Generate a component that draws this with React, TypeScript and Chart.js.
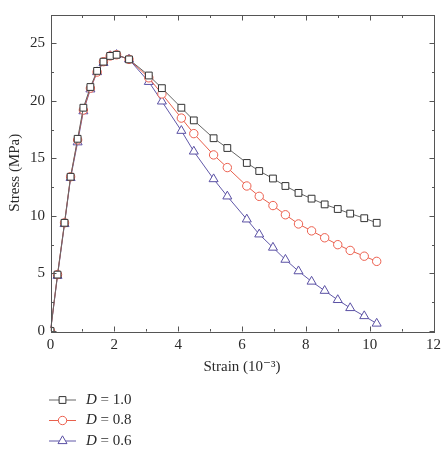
import React, { useEffect, useRef } from "react";
import { Chart, registerables } from "chart.js";

Chart.register(...registerables);

const strain = [0, 0.22, 0.44, 0.63, 0.85, 1.03, 1.25, 1.46, 1.66, 1.87, 2.07, 2.46, 3.08, 3.49, 4.1, 4.49, 5.11, 5.54, 6.15, 6.54, 6.97, 7.36, 7.77, 8.18, 8.59, 9.0, 9.39, 9.83, 10.22];
const stressD10 = [0, 4.9, 9.4, 13.4, 16.7, 19.4, 21.2, 22.6, 23.4, 23.9, 24.0, 23.6, 22.2, 21.1, 19.4, 18.3, 16.75, 15.9, 14.6, 13.9, 13.25, 12.6, 12.0, 11.5, 11.0, 10.6, 10.2, 9.8, 9.4];
const stressD08 = [0, 4.9, 9.4, 13.4, 16.6, 19.2, 21.1, 22.5, 23.4, 23.9, 24.0, 23.6, 22.0, 20.6, 18.5, 17.15, 15.3, 14.2, 12.6, 11.7, 10.9, 10.1, 9.3, 8.7, 8.1, 7.5, 7.0, 6.5, 6.05];
const stressD06 = [0, 4.8, 9.3, 13.3, 16.4, 19.1, 21.0, 22.5, 23.3, 23.9, 24.0, 23.6, 21.65, 19.95, 17.4, 15.6, 13.2, 11.7, 9.7, 8.4, 7.25, 6.2, 5.2, 4.3, 3.5, 2.7, 2.0, 1.3, 0.65];
const dValues = ["1.0", "0.8", "0.6"];
const xMajorTicks = [0, 2, 4, 6, 8, 10, 12];
const xMinorTicks = [1, 3, 5, 7, 9, 11];
const yMajorTicks = [0, 5, 10, 15, 20, 25];
const yMinorTicks = [2.5, 7.5, 12.5, 17.5, 22.5];

const FONT = "'Liberation Serif', 'DejaVu Serif', serif";
const AXIS = "#555";
const TEXT = "#2a2a2a";

function drawMarker(ctx: CanvasRenderingContext2D, style: string, x: number, y: number, r: number, color: string) {
  ctx.save();
  ctx.strokeStyle = color;
  ctx.fillStyle = "#fff";
  ctx.lineWidth = 1;
  ctx.beginPath();
  if (style === "rect") {
    const s = r * Math.SQRT2 / 2;
    ctx.rect(x - s, y - s, 2 * s, 2 * s);
  } else if (style === "circle") {
    ctx.arc(x, y, r, 0, Math.PI * 2);
  } else {
    const h = r;
    ctx.moveTo(x, y - h);
    ctx.lineTo(x + h * Math.cos(Math.PI / 6), y + h * 0.5);
    ctx.lineTo(x - h * Math.cos(Math.PI / 6), y + h * 0.5);
    ctx.closePath();
  }
  ctx.fill();
  ctx.stroke();
  ctx.restore();
}

const framePlugin = {
  id: "frameTicks",
  afterDatasetsDraw(chart: any) {
    const { ctx, chartArea, scales } = chart;
    const { left, right, top, bottom } = chartArea;
    const xs = scales.x;
    const ys = scales.y;
    ctx.save();
    ctx.strokeStyle = AXIS;
    ctx.lineWidth = 1;
    ctx.strokeRect(Math.round(left) + 0.5, Math.round(top) + 0.5, Math.round(right - left), Math.round(bottom - top));
    const tick = (x1: number, y1: number, x2: number, y2: number) => {
      ctx.beginPath();
      ctx.moveTo(x1, y1);
      ctx.lineTo(x2, y2);
      ctx.stroke();
    };
    const b = Math.round(bottom) + 0.5;
    const t = Math.round(top) + 0.5;
    const l = Math.round(left) + 0.5;
    const r = Math.round(right) + 0.5;
    xMajorTicks.forEach((v) => {
      const px = Math.round(xs.getPixelForValue(v)) + 0.5;
      tick(px, b, px, b - 5);
      tick(px, t, px, t + 5);
    });
    xMinorTicks.forEach((v) => {
      const px = Math.round(xs.getPixelForValue(v)) + 0.5;
      tick(px, b, px, b - 2.5);
      tick(px, t, px, t + 2.5);
    });
    yMajorTicks.forEach((v) => {
      const py = Math.round(ys.getPixelForValue(v)) + 0.5;
      tick(l, py, l + 5, py);
      tick(r, py, r - 5, py);
    });
    yMinorTicks.forEach((v) => {
      const py = Math.round(ys.getPixelForValue(v)) + 0.5;
      tick(l, py, l + 2.5, py);
      tick(r, py, r - 2.5, py);
    });
    ctx.restore();
  },
};

const legendPlugin = {
  id: "customLegend",
  afterDraw(chart: any) {
    const { ctx } = chart;
    const rows = [400, 420.5, 441];
    chart.data.datasets.forEach((ds: any, i: number) => {
      const y = rows[i];
      ctx.save();
      ctx.strokeStyle = ds.borderColor;
      ctx.lineWidth = 1;
      ctx.beginPath();
      ctx.moveTo(49, y);
      ctx.lineTo(76, y);
      ctx.stroke();
      ctx.restore();
      drawMarker(ctx, ds.pointStyle, 62.5, y, ds.pointRadius, ds.pointBorderColor);
      ctx.save();
      ctx.fillStyle = TEXT;
      ctx.textBaseline = "middle";
      ctx.font = `italic 15px ${FONT}`;
      ctx.fillText("D", 86, y);
      const w = ctx.measureText("D").width;
      ctx.font = `15px ${FONT}`;
      ctx.fillText(` = ${dValues[i]}`, 86 + w, y);
      ctx.restore();
    });
  },
};

export default function App() {
  const ref = useRef<HTMLCanvasElement | null>(null);
  useEffect(() => {
    document.body.style.margin = "0";
    const mk = (ys: number[]) => strain.map((x, i) => ({ x, y: ys[i] }));
    const chart = new Chart(ref.current as HTMLCanvasElement, {
      type: "line",
      data: {
        datasets: [
          {
            label: `D = ${dValues[0]}`,
            data: mk(stressD10),
            borderColor: "#666",
            pointBorderColor: "#333",
            pointBackgroundColor: "#fff",
            pointStyle: "rect",
            pointRadius: 4.8,
            borderWidth: 1,
            pointBorderWidth: 1,
          },
          {
            label: `D = ${dValues[1]}`,
            data: mk(stressD08),
            borderColor: "#e8604c",
            pointBorderColor: "#ec5f4e",
            pointBackgroundColor: "#fff",
            pointStyle: "circle",
            pointRadius: 4.2,
            borderWidth: 1,
            pointBorderWidth: 1,
          },
          {
            label: `D = ${dValues[2]}`,
            data: mk(stressD06),
            borderColor: "#6058a8",
            pointBorderColor: "#5a50a4",
            pointBackgroundColor: "#fff",
            pointStyle: "triangle",
            pointRadius: 5.2,
            borderWidth: 1,
            pointBorderWidth: 1,
          },
        ] as any,
      },
      options: {
        animation: false,
        responsive: false,
        maintainAspectRatio: false,
        layout: { padding: { top: 7, right: 6, bottom: 76, left: 0 } },
        plugins: { legend: { display: false }, tooltip: { enabled: false } },
        scales: {
          x: {
            type: "linear",
            min: 0,
            max: 12,
            grid: { display: false, drawTicks: false },
            border: { display: false },
            ticks: { stepSize: 2, padding: 5, color: TEXT, font: { family: FONT, size: 15 } },
            title: { display: true, text: "Strain (10\u207B\u00B3)", color: TEXT, font: { family: FONT, size: 15 }, padding: { top: 0, bottom: 0 } },
            afterFit: (s: any) => { s.height = 45; },
          },
          y: {
            type: "linear",
            min: 0,
            max: 27.5,
            grid: { display: false, drawTicks: false },
            border: { display: false },
            ticks: { stepSize: 5, includeBounds: false, padding: 5.5, color: TEXT, font: { family: FONT, size: 15 } },
            title: { display: true, text: "Stress (MPa)", color: TEXT, font: { family: FONT, size: 15 }, padding: { top: 6, bottom: 0 } },
            afterFit: (s: any) => { s.width = 50.5; },
          },
        },
      },
      plugins: [framePlugin, legendPlugin],
    });
    return () => chart.destroy();
  }, []);
  return (
    <div style={{ position: "absolute", left: 0, top: 0, width: 446, height: 452, background: "#fff" }}>
      <canvas ref={ref} width={446} height={452} style={{ width: 446, height: 452 }} />
    </div>
  );
}
